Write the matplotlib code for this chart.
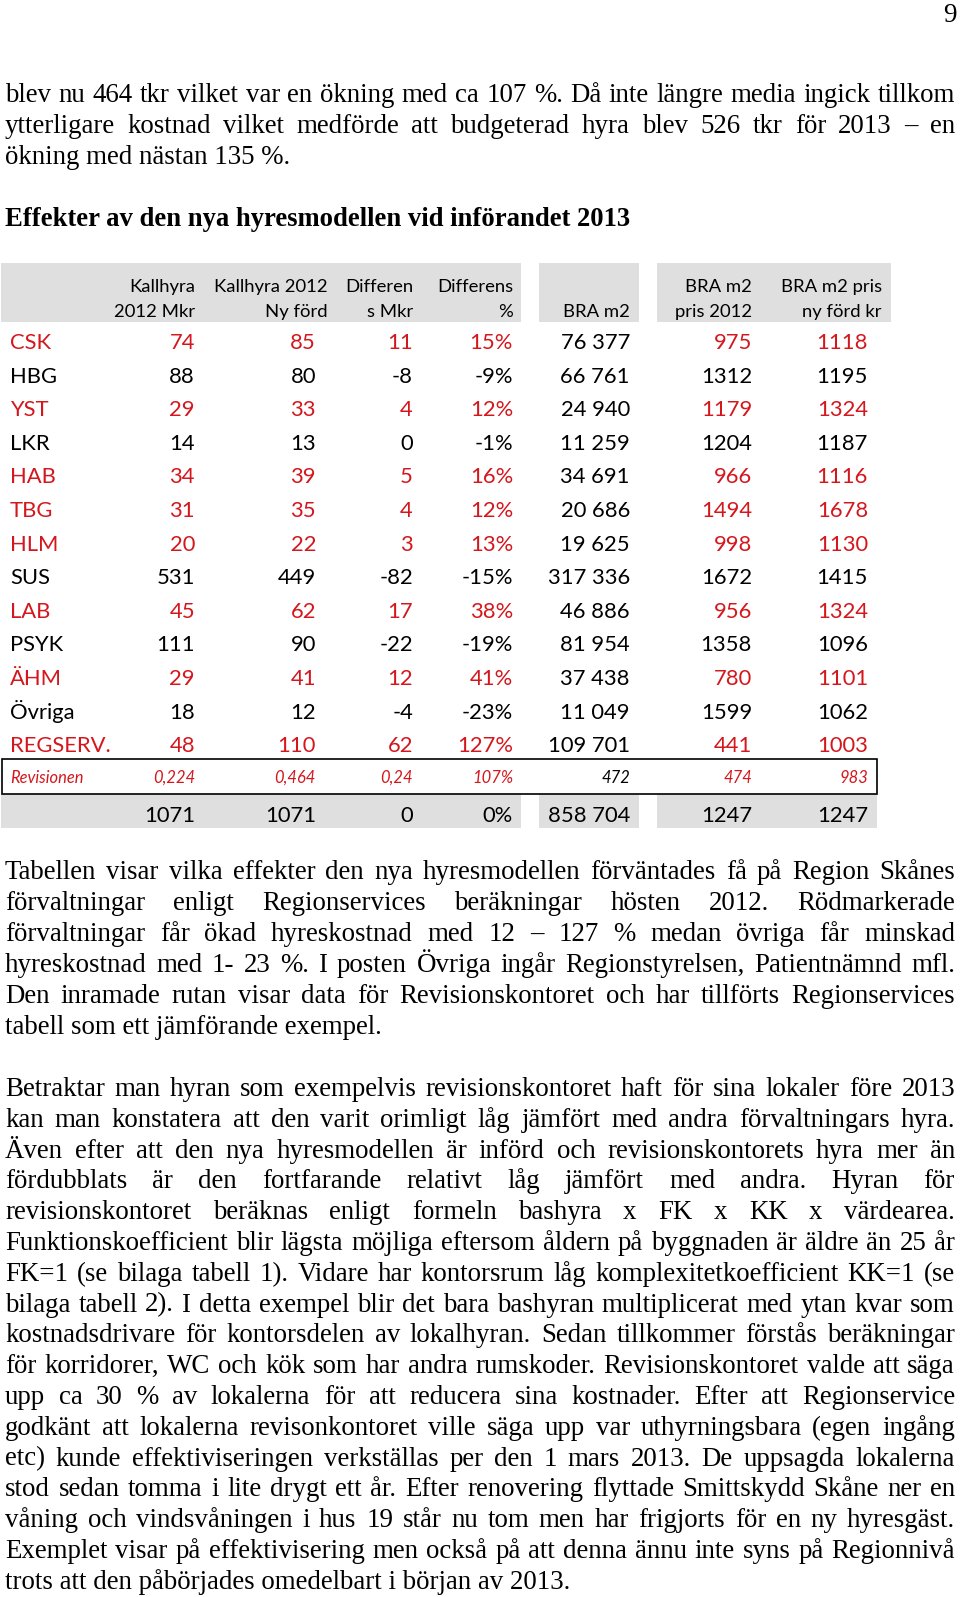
# Effekter av den nya hyresmodellen vid införandet 2013 – sida 9
import matplotlib
matplotlib.use("Agg")
import matplotlib.pyplot as plt
from matplotlib.patches import Rectangle

# ------------------------------------
# Data
# ------------------------------------
forvaltning = ["CSK", "HBG", "YST", "LKR", "HAB", "TBG", "HLM", "SUS",
               "LAB", "PSYK", "ÄHM", "Övriga", "REGSERV."]
kallhyra_2012 = [74, 88, 29, 14, 34, 31, 20, 531, 45, 111, 29, 18, 48]
kallhyra_ny = [85, 80, 33, 13, 39, 35, 22, 449, 62, 90, 41, 12, 110]
diff_mkr = [11, -8, 4, 0, 5, 4, 3, -82, 17, -22, 12, -4, 62]
diff_pct = [15, -9, 12, -1, 16, 12, 13, -15, 38, -19, 41, -23, 127]
bra_m2 = [76377, 66761, 24940, 11259, 34691, 20686, 19625, 317336,
          46886, 81954, 37438, 11049, 109701]
pris_2012 = [975, 1312, 1179, 1204, 966, 1494, 998, 1672, 956, 1358, 780, 1599, 441]
pris_ny = [1118, 1195, 1324, 1187, 1116, 1678, 1130, 1415, 1324, 1096, 1101, 1062, 1003]
rodmarkerad = ["CSK", "YST", "HAB", "TBG", "HLM", "LAB", "ÄHM", "REGSERV."]

revision_label = "Revisionen"
revision_values = ["0,224", "0,464", "0,24", "107%", "472", "474", "983"]
summa = [1071, 1071, 0, 0, 858704, 1247, 1247]

header_1 = ["Kallhyra", "Kallhyra 2012", "Differen", "Differens", "", "BRA m2", "BRA m2 pris"]
header_2 = ["2012 Mkr", "Ny förd", "s Mkr", "%", "BRA m2", "pris 2012", "ny förd kr"]

page_no = "9"
title = "Effekter av den nya hyresmodellen vid införandet 2013"

para_1 = [
    "blev nu 464 tkr vilket var en ökning med ca 107 %. Då inte längre media ingick tillkom",
    "ytterligare kostnad vilket medförde att budgeterad hyra blev 526 tkr för 2013 – en",
    "ökning med nästan 135 %.",
]
para_2 = [
    "Tabellen visar vilka effekter den nya hyresmodellen förväntades få på Region Skånes",
    "förvaltningar enligt Regionservices beräkningar hösten 2012. Rödmarkerade",
    "förvaltningar får ökad hyreskostnad med 12 – 127 % medan övriga får minskad",
    "hyreskostnad med 1- 23 %. I posten Övriga ingår Regionstyrelsen, Patientnämnd mfl.",
    "Den inramade rutan visar data för Revisionskontoret och har tillförts Regionservices",
    "tabell som ett jämförande exempel.",
]
para_3 = [
    "Betraktar man hyran som exempelvis revisionskontoret haft för sina lokaler före 2013",
    "kan man konstatera att den varit orimligt låg jämfört med andra förvaltningars hyra.",
    "Även efter att den nya hyresmodellen är införd och revisionskontorets hyra mer än",
    "fördubblats är den fortfarande relativt låg jämfört med andra. Hyran för",
    "revisionskontoret beräknas enligt formeln bashyra x FK x KK x värdearea.",
    "Funktionskoefficient blir lägsta möjliga eftersom åldern på byggnaden är äldre än 25 år",
    "FK=1 (se bilaga tabell 1). Vidare har kontorsrum låg komplexitetkoefficient KK=1 (se",
    "bilaga tabell 2). I detta exempel blir det bara bashyran multiplicerat med ytan kvar som",
    "kostnadsdrivare för kontorsdelen av lokalhyran. Sedan tillkommer förstås beräkningar",
    "för korridorer, WC och kök som har andra rumskoder. Revisionskontoret valde att säga",
    "upp ca 30 % av lokalerna för att reducera sina kostnader. Efter att Regionservice",
    "godkänt att lokalerna revisonkontoret ville säga upp var uthyrningsbara (egen ingång",
    "etc) kunde effektiviseringen verkställas per den 1 mars 2013. De uppsagda lokalerna",
    "stod sedan tomma i lite drygt ett år. Efter renovering flyttade Smittskydd Skåne ner en",
    "våning och vindsvåningen i hus 19 står nu tom men har frigjorts för en ny hyresgäst.",
    "Exemplet visar på effektivisering men också på att denna ännu inte syns på Regionnivå",
    "trots att den påbörjades omedelbart i början av 2013.",
]

# ------------------------------------
# Figur (1 dataenhet = 1 pixel)
# ------------------------------------
W, H = 960, 1597
SERIF = "Liberation Serif"
SANS = "Lato"
RED = "#d4171d"
GRAY = "#dfdfdf"

fig = plt.figure(figsize=(W / 100, H / 100), dpi=100)
ax = fig.add_axes([0, 0, 1, 1])
ax.set_xlim(0, W)
ax.set_ylim(H, 0)
ax.axis("off")
renderer = fig.canvas.get_renderer()


def text_width(s, **kw):
    t = ax.text(0, 0, s, **kw)
    w = t.get_window_extent(renderer).width
    t.remove()
    return w


def fit_size(s, target, **kw):
    return 10 * target / text_width(s, fontsize=10, **kw)


def draw_para(lines, y0, dy, fs, left=5, right=955):
    for k, line in enumerate(lines):
        y = y0 + k * dy
        if k == len(lines) - 1:
            ax.text(left, y, line, fontsize=fs, family=SERIF, va="baseline")
            continue
        words = line.split(" ")
        widths = [text_width(w, fontsize=fs, family=SERIF) for w in words]
        gap = (right - left - sum(widths)) / (len(words) - 1)
        x = left
        for w, wd in zip(words, widths):
            ax.text(x, y, w, fontsize=fs, family=SERIF, va="baseline")
            x += wd + gap


fs_body = fit_size(para_3[-1], 566, family=SERIF)
fs_title = fit_size(title, 628, family=SERIF, weight="bold")

# sidnummer och löptext
ax.text(957, 22, page_no, fontsize=fs_body, family=SERIF, ha="right", va="baseline")
draw_para(para_1, 102, 31, fs_body)
ax.text(5, 226, title, fontsize=fs_title, family=SERIF, weight="bold", va="baseline")

# ------------------------------------
# Tabell
# ------------------------------------
fs_head = fit_size("Kallhyra 2012", 110, family=SANS) * 1.03
fs_cell = fit_size("317 336", 79, family=SANS) * 1.04
fs_rev = (fit_size(revision_label, 76, family=SANS, style="italic")
          + fit_size("0,464", 40, family=SANS, style="italic")) / 2

segments_head = [(1, 521), (539, 639), (657, 891)]
segments_sum = [(1, 521), (539, 639), (657, 877)]
for x0, x1 in segments_head:
    ax.add_patch(Rectangle((x0, 263), x1 - x0, 59, color=GRAY, lw=0))
for x0, x1 in segments_sum:
    ax.add_patch(Rectangle((x0, 794), x1 - x0, 34, color=GRAY, lw=0))

head_right = [195, 328, 413, 513, 630, 752, 882]
col_right = [195, 316, 413, 513, 630, 752, 868]

for xr, h1, h2 in zip(head_right, header_1, header_2):
    ax.text(xr, 292, h1, fontsize=fs_head, family=SANS, ha="right", va="baseline")
    ax.text(xr, 317, h2, fontsize=fs_head, family=SANS, ha="right", va="baseline")


def fmt_int(v):
    return f"{v:,}".replace(",", " ")


row_y0, row_dy = 349, 33.6
for i, namn in enumerate(forvaltning):
    y = row_y0 + i * row_dy
    c = RED if namn in rodmarkerad else "black"
    cells = [str(kallhyra_2012[i]), str(kallhyra_ny[i]), str(diff_mkr[i]),
             f"{diff_pct[i]}%", fmt_int(bra_m2[i]), str(pris_2012[i]), str(pris_ny[i])]
    colors = [c, c, c, c, "black", c, c]
    ax.text(10, y, namn, fontsize=fs_cell, family=SANS, color=c, va="baseline")
    for xr, s, cc in zip(col_right, cells, colors):
        ax.text(xr, y, s, fontsize=fs_cell, family=SANS, color=cc, ha="right", va="baseline")

# inramad rad för Revisionen
ax.add_patch(Rectangle((2, 759), 875, 35, fill=False, ec="black", lw=1.2))
ax.text(10, 783, revision_label, fontsize=fs_rev, family=SANS, style="italic",
        color=RED, va="baseline")
for j, (xr, s) in enumerate(zip(col_right, revision_values)):
    cc = "black" if j == 4 else RED
    ax.text(xr, 783, s, fontsize=fs_rev, family=SANS, style="italic", color=cc,
            ha="right", va="baseline")

# summarad
sum_cells = [str(summa[0]), str(summa[1]), str(summa[2]), f"{summa[3]}%",
             fmt_int(summa[4]), str(summa[5]), str(summa[6])]
for xr, s in zip(col_right, sum_cells):
    ax.text(xr, 822, s, fontsize=fs_cell, family=SANS, ha="right", va="baseline")

# ------------------------------------
# Text under tabellen
# ------------------------------------
draw_para(para_2, 879, 31, fs_body)
draw_para(para_3, 1096, 30.8, fs_body)

fig.savefig("out.png", dpi=100, facecolor="white")
